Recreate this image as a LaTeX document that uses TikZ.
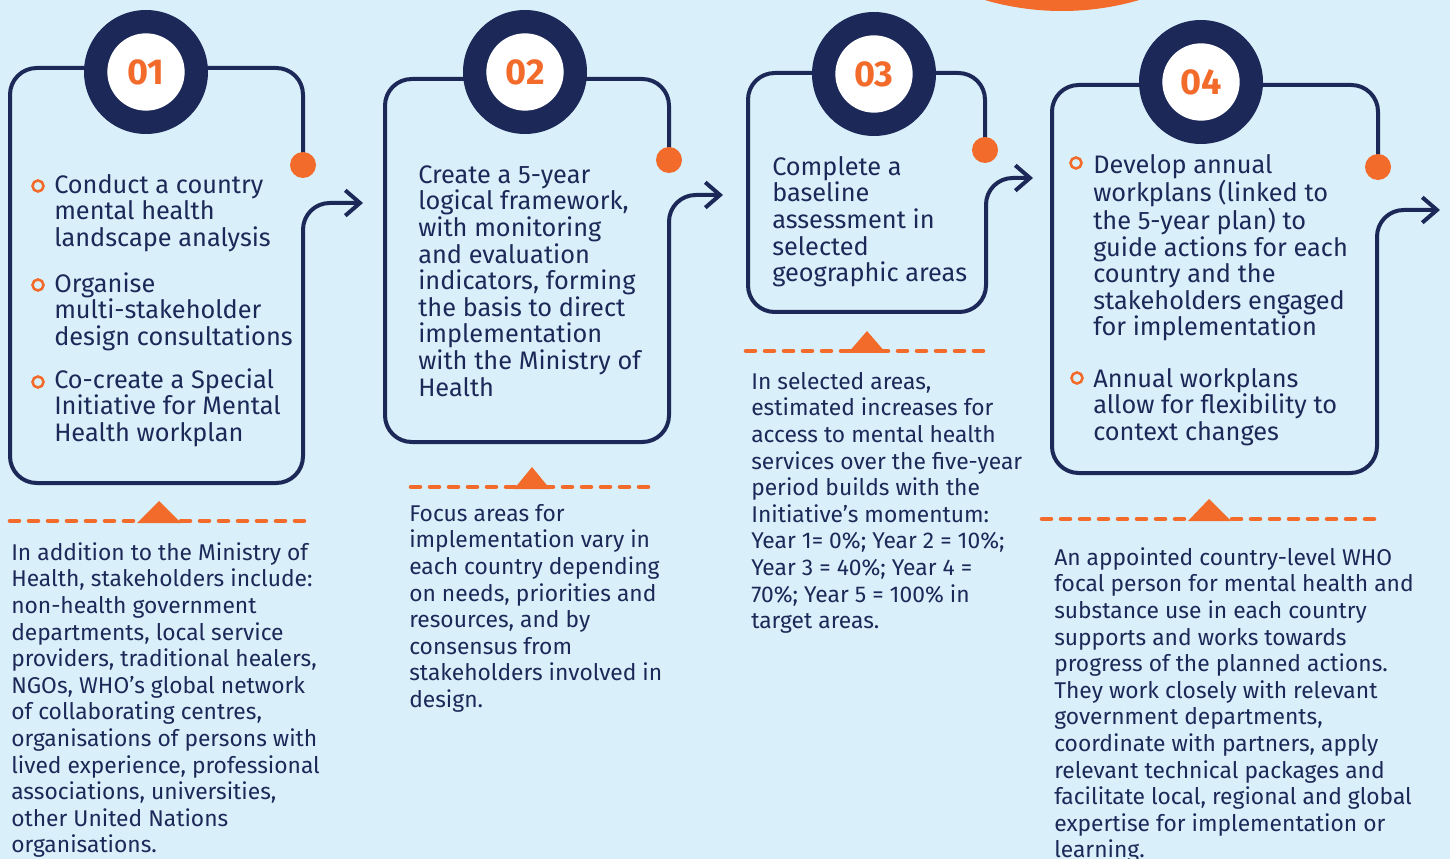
\documentclass[tikz,border=0pt]{standalone}
\usepackage{fontspec}
\setmainfont{Fira Sans}
\usetikzlibrary{arrows.meta}
\definecolor{bgc}{HTML}{D9F0FA}
\definecolor{navy}{HTML}{1C2858}
\definecolor{orng}{HTML}{F26B2B}
\begin{document}
\begin{tikzpicture}[x=0.75pt,y=-0.75pt,
  boxline/.style={draw=navy,line width=3pt,rounded corners=20pt,line join=round},
  flowtip/.style={-{Straight Barb[length=11pt,width=19pt]}},
  ringout/.style={circle,fill=navy,minimum size=93pt,inner sep=0pt},
  ringin/.style={circle,fill=white,minimum size=58pt,inner sep=0pt,text=orng,
    font=\fontsize{27}{27}\selectfont\bfseries},
  dotn/.style={circle,fill=orng,minimum size=19.5pt,inner sep=0pt},
  bul/.style={circle,draw=orng,line width=1.9pt,minimum size=8.3pt,inner sep=0pt},
  bigtxt/.style={anchor=north west,inner sep=0pt,align=left,text=navy,
    font=\fontsize{19}{19.95}\selectfont},
  smalltxt/.style={anchor=north west,inner sep=0pt,align=left,text=navy,
    font=\fontsize{17.1}{19.95}\selectfont},
  dashl/.style={draw=orng,line width=3.4pt,line cap=round,dash pattern=on 6.75pt off 7.5pt},
  tri/.style={fill=orng}
]
\newcommand{\bigstrutx}{\rule{0pt}{16pt}}
\newcommand{\smallstrutx}{\rule{0pt}{14pt}}
\useasboundingbox (0,0) rectangle (1450,859);
\clip (0,0) rectangle (1450,859);
\fill[bgc] (0,0) rectangle (1450,859);
% orange disc at top
\fill[orng] (1062,-264) circle [radius=206.25pt];

% dashed separators with triangles
\draw[dashl] (10,521) -- (307,521);
\fill[tri] (137,523) -- (181,523) -- (159,501) -- cycle;
\draw[dashl] (411,487) -- (655,487);
\fill[tri] (514,489) -- (550,489) -- (532,467) -- cycle;
\draw[dashl] (746,351) -- (989,351);
\fill[tri] (848,353) -- (886,353) -- (867,331) -- cycle;
\draw[dashl] (1042,519) -- (1378,519);
\fill[tri] (1188,521) -- (1231,521) -- (1209,499) -- cycle;

% box 1
\coordinate (d1) at (303,165);
\coordinate (a1) at (363,203);
\draw[boxline,flowtip] (d1) -- (303,68) -- (10,68) -- (10,483) -- (303,483) -- (303,203) -- (a1);
% box 2
\coordinate (d2) at (669,160);
\coordinate (a2) at (723,195);
\draw[boxline,flowtip] (d2) -- (669,79) -- (385,79) -- (385,442) -- (669,442) -- (669,195) -- (a2);
% box 3
\coordinate (d3) at (985,150);
\coordinate (a3) at (1033,178);
\draw[boxline,flowtip] (d3) -- (985,73) -- (748,73) -- (748,312) -- (986,312) -- (986,178) -- (a3);
% box 4
\coordinate (d4) at (1378,167);
\coordinate (a4) at (1440,210);
\draw[boxline,flowtip] (d4) -- (1378,85) -- (1052,85) -- (1052,473) -- (1377,473) -- (1377,210) -- (a4);

% end dots
\node[dotn] (dot1) at (d1) {};
\node[dotn] (dot2) at (d2) {};
\node[dotn] (dot3) at (d3) {};
\node[dotn] (dot4) at (d4) {};

% number rings
\node[ringout] (r1) at (146,72) {};
\node[ringin] (n1) at (146,72) {01};
\node[ringout] (r2) at (525,72) {};
\node[ringin] (n2) at (525,72) {02};
\node[ringout] (r3) at (874,74) {};
\node[ringin] (n3) at (874,74) {03};
\node[ringout] (r4) at (1201,82) {};
\node[ringin] (n4) at (1201,82) {04};

% box 1 text
\node[bul] (u1) at (38,186) {};
\node[bigtxt] (t1a) at (54,171.7) {\bigstrutx Conduct a country\\mental health\\landscape analysis};
\node[bul] (u2) at (38,285) {};
\node[bigtxt] (t1b) at (54,270.7) {\bigstrutx Organise\\multi-stakeholder\\design consultations};
\node[bul] (u3) at (38,382) {};
\node[bigtxt] (t1c) at (54,366.7) {\bigstrutx Co-create a Special\\Initiative for Mental\\Health workplan};

% box 2 text
\node[bigtxt] (t2) at (418,161.7) {\bigstrutx Create a 5-year\\logical framework,\\with monitoring\\and evaluation\\indicators, forming\\the basis to direct\\implementation\\with the Ministry of\\Health};

% box 3 text
\node[bigtxt] (t3) at (772,153.7) {\bigstrutx Complete a\\baseline\\assessment in\\selected\\geographic areas};

% box 4 text
\node[bul] (u4) at (1076,163) {};
\node[bigtxt] (t4a) at (1093,151.7) {\bigstrutx Develop annual\\workplans (linked to\\the 5-year plan) to\\guide actions for each\\country and the\\stakeholders engaged\\for implementation};
\node[bul] (u5) at (1077,378) {};
\node[bigtxt] (t4b) at (1093,365.7) {\bigstrutx Annual workplans\\allow for flexibility to\\context changes};

% lower texts
\node[smalltxt] (s1) at (11,541.3) {\smallstrutx In addition to the Ministry of\\Health, stakeholders include:\\non-health government\\departments, local service\\providers, traditional healers,\\NGOs, WHO’s global network\\of collaborating centres,\\organisations of persons with\\lived experience, professional\\associations, universities,\\other United Nations\\organisations.};
\node[smalltxt] (s2) at (409,502.3) {\smallstrutx Focus areas for\\implementation vary in\\each country depending\\on needs, priorities and\\resources, and by\\consensus from\\stakeholders involved in\\design.};
\node[smalltxt] (s3) at (751,370.3) {\smallstrutx In selected areas,\\estimated increases for\\access to mental health\\services over the five-year\\period builds with the\\Initiative’s momentum:\\Year 1= 0\%; Year 2 = 10\%;\\Year 3 = 40\%; Year 4 =\\70\%; Year 5 = 100\% in\\target areas.};
\node[smalltxt] (s4) at (1054,546.3) {\smallstrutx An appointed country-level WHO\\focal person for mental health and\\substance use in each country\\supports and works towards\\progress of the planned actions.\\They work closely with relevant\\government departments,\\coordinate with partners, apply\\relevant technical packages and\\facilitate local, regional and global\\expertise for implementation or\\learning.};
\end{tikzpicture}
\end{document}
